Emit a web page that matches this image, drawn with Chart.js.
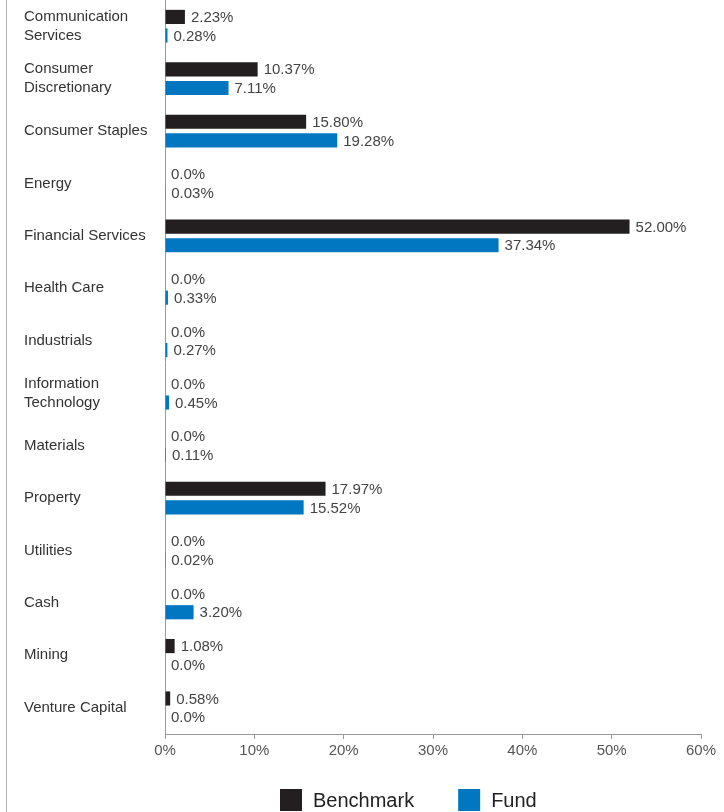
<!DOCTYPE html>
<html>
<head>
<meta charset="utf-8">
<script src="https://cdn.jsdelivr.net/npm/chart.js@4.4.1/dist/chart.umd.min.js"></script>
<style>
  html, body { margin: 0; padding: 0; background: #fff; }
  #wrap { position: relative; width: 724px; height: 812px; }
  #edge { position: absolute; left: 6px; top: 0; width: 1px; height: 812px; background: #b0b0b0; }
  canvas { position: absolute; left: 0; top: 0; }
</style>
</head>
<body>
<div id="wrap">
  <div id="edge"></div>
  <canvas id="c" width="724" height="812"></canvas>
</div>
<script>
const categories = [
  ['Communication', 'Services'],
  ['Consumer', 'Discretionary'],
  'Consumer Staples',
  'Energy',
  'Financial Services',
  'Health Care',
  'Industrials',
  ['Information', 'Technology'],
  'Materials',
  'Property',
  'Utilities',
  'Cash',
  'Mining',
  'Venture Capital'
];
const benchmark = [2.23, 10.37, 15.80, 0, 52.00, 0, 0, 0, 0, 17.97, 0, 0, 1.08, 0.58];
const fund = [0.28, 7.11, 19.28, 0.03, 37.34, 0.33, 0.27, 0.45, 0.11, 15.52, 0.02, 3.20, 0, 0];
const xTicks = [0, 10, 20, 30, 40, 50, 60];
const seriesNames = ['Benchmark', 'Fund'];
const seriesColors = ['#231f20', '#0077c0'];

const fmt = v => v === 0 ? '0.0%' : v.toFixed(2) + '%';
const FONT = '"Liberation Sans", Arial, sans-serif';

const valueLabels = {
  id: 'valueLabels',
  afterDatasetsDraw(chart) {
    const ctx = chart.ctx;
    ctx.save();
    ctx.font = '15px ' + FONT;
    ctx.fillStyle = '#444';
    ctx.textAlign = 'left';
    ctx.textBaseline = 'middle';
    chart.data.datasets.forEach((ds, di) => {
      const meta = chart.getDatasetMeta(di);
      meta.data.forEach((bar, i) => {
        ctx.fillText(fmt(ds.data[i]), bar.x + 6, bar.y + 1);
      });
    });
    ctx.restore();
  }
};

const customLegend = {
  id: 'customLegend',
  afterDraw(chart) {
    const ctx = chart.ctx;
    ctx.save();
    ctx.font = '20px ' + FONT;
    ctx.textBaseline = 'middle';
    ctx.textAlign = 'left';
    let x = 280;
    const yTop = 789, box = 22;
    chart.data.datasets.forEach((ds) => {
      ctx.fillStyle = ds.backgroundColor;
      ctx.fillRect(x, yTop, box, box);
      ctx.fillStyle = '#222';
      ctx.fillText(ds.label, x + box + 11, yTop + box / 2 + 1);
      x += box + 11 + ctx.measureText(ds.label).width + 44;
    });
    ctx.restore();
  }
};

new Chart(document.getElementById('c'), {
  type: 'bar',
  data: {
    labels: categories,
    datasets: [
      { label: seriesNames[0], data: benchmark, backgroundColor: seriesColors[0] },
      { label: seriesNames[1], data: fund, backgroundColor: seriesColors[1] }
    ]
  },
  options: {
    indexAxis: 'y',
    responsive: false,
    animation: false,
    devicePixelRatio: 1,
    layout: { padding: { left: 24, right: 23, top: 0, bottom: 50 } },
    datasets: { bar: { categoryPercentage: 0.71, barPercentage: 0.76 } },
    plugins: { legend: { display: false }, tooltip: { enabled: false } },
    scales: {
      x: {
        type: 'linear',
        min: 0, max: 60,
        afterBuildTicks: s => { s.ticks = xTicks.map(v => ({ value: v })); },
        afterFit: s => { s.height = 28; },
        grid: { drawOnChartArea: false, drawTicks: true, tickLength: 5, color: '#999' },
        border: { display: true, color: '#999', width: 1 },
        ticks: {
          callback: v => v + '%',
          color: '#555',
          padding: 3,
          maxRotation: 0,
          font: { family: FONT, size: 15 }
        }
      },
      y: {
        afterFit: s => { s.width = 141; s.paddingTop = 0; s.paddingBottom = 0; },
        grid: { display: false },
        border: { display: true, color: '#999', width: 1 },
        ticks: {
          crossAlign: 'far',
          color: '#333',
          font: { family: FONT, size: 15, lineHeight: 1.27 }
        }
      }
    }
  },
  plugins: [valueLabels, customLegend]
});
</script>
</body>
</html>
